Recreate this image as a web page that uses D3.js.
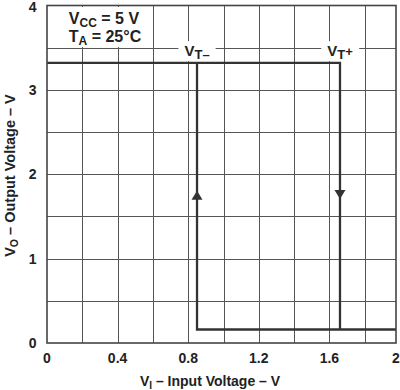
<!DOCTYPE html>
<html>
<head>
<meta charset="utf-8">
<script src="https://cdn.jsdelivr.net/npm/d3@7/dist/d3.min.js"></script>
<style>
  html, body { margin: 0; padding: 0; background: #fff; }
  svg { display: block; }
  text { font-family: "Liberation Sans", Arial, sans-serif; font-weight: bold; fill: #222; }
</style>
</head>
<body>
<svg id="chart" width="400" height="390"></svg>
<script>
// ---- data ----
const xTickValues = [0, 0.4, 0.8, 1.2, 1.6, 2];
const xTickLabels = ["0", "0.4", "0.8", "1.2", "1.6", "2"];
const yTickValues = [0, 1, 2, 3, 4];
const yTickLabels = ["0", "1", "2", "3", "4"];
const xGridValues = [0.2, 0.4, 0.6, 0.8, 1.0, 1.2, 1.4, 1.6, 1.8];
const yGridValues = [0.5, 1, 1.5, 2, 2.5, 3, 3.5];
const VOH = 3.32;          // output high level (V)
const VOL = 0.16;          // output low level (V)
const VT_minus = 0.85;     // negative-going threshold (V)
const VT_plus = 1.66;      // positive-going threshold (V)
const upperBranch = [[0, VOH], [VT_plus, VOH], [VT_plus, VOL]];
const lowerBranch = [[VT_minus, VOH], [VT_minus, VOL], [2, VOL]];
const arrows = [
  { x: VT_minus, y: 1.75, dir: "up" },
  { x: VT_plus, y: 1.76, dir: "down" }
];
const thresholdLabels = [
  { x: VT_minus, y: 3.5, sub: "T", mark: "–", markDy: 0 },
  { x: VT_plus, y: 3.5, sub: "T", mark: "+", markDy: -3 }
];

// ---- layout ----
const svg = d3.select("#chart");
const mLeft = 47, mRight = 396, mTop = 5.5, mBottom = 343;
// scanned original: last grid interval slightly compressed
const x = d3.scaleLinear().domain([0, 1.8, 2]).range([mLeft, 364.7, mRight]);
const y = d3.scaleLinear().domain([0, 4]).range([mBottom, mTop]);

// grid
const grid = svg.append("g").attr("stroke", "#555").attr("stroke-width", 1);
grid.selectAll("line.v").data(xGridValues).join("line").attr("class", "v")
  .attr("x1", d => Math.round(x(d)) + 0.5).attr("x2", d => Math.round(x(d)) + 0.5)
  .attr("y1", mTop).attr("y2", mBottom);
grid.selectAll("line.h").data(yGridValues).join("line").attr("class", "h")
  .attr("y1", d => Math.round(y(d)) + 0.5).attr("y2", d => Math.round(y(d)) + 0.5)
  .attr("x1", mLeft).attr("x2", mRight);

// header annotation with white backing
const hdr = svg.append("g");
const hdrBg = hdr.append("rect").attr("fill", "#fff");
const t1 = hdr.append("text").attr("x", 104).attr("y", 24).attr("text-anchor", "middle").style("font-size", "16px");
t1.append("tspan").text("V");
t1.append("tspan").attr("dy", 3).style("font-size", "12px").text("CC");
t1.append("tspan").attr("dy", -3).text(" = 5 V");
const t2 = hdr.append("text").attr("x", 105).attr("y", 41.5).attr("text-anchor", "middle").style("font-size", "16px");
t2.append("tspan").text("T");
t2.append("tspan").attr("dy", 3).style("font-size", "12px").text("A");
t2.append("tspan").attr("dy", -3).text(" = 25°C");
{
  const bb = hdr.node().getBBox();
  hdrBg.attr("x", bb.x - 8).attr("y", 7).attr("width", bb.width + 16).attr("height", 40);
}

// threshold labels with white backing
thresholdLabels.forEach(l => {
  const g = svg.append("g");
  const bg = g.append("rect").attr("fill", "#fff");
  const t = g.append("text").attr("x", x(l.x)).attr("y", y(l.y) + 8.5)
    .attr("text-anchor", "middle").style("font-size", "15px");
  t.append("tspan").text("V");
  t.append("tspan").attr("dy", 3).style("font-size", "13px").text(l.sub);
  t.append("tspan").attr("dy", l.markDy).style("font-size", "13px").text(l.mark);
  const bb = t.node().getBBox();
  bg.attr("x", bb.x - 6).attr("y", bb.y - 1).attr("width", bb.width + 12).attr("height", bb.height);
});

// curve
const line = d3.line().x(d => x(d[0])).y(d => y(d[1]));
svg.selectAll("path.curve").data([upperBranch, lowerBranch]).join("path")
  .attr("class", "curve")
  .attr("d", line)
  .attr("fill", "none").attr("stroke", "#333").attr("stroke-width", 2.3)
  .attr("stroke-linejoin", "miter");

// arrows
svg.selectAll("path.arrow").data(arrows).join("path")
  .attr("class", "arrow")
  .attr("fill", "#333")
  .attr("d", d => {
    const cx = x(d.x), cy = y(d.y), w = 5.5, h = 4.5;
    return d.dir === "up"
      ? `M${cx},${cy - h}L${cx + w},${cy + h}L${cx - w},${cy + h}Z`
      : `M${cx},${cy + h}L${cx + w},${cy - h}L${cx - w},${cy - h}Z`;
  });

// frame
svg.append("rect").attr("x", mLeft).attr("y", mTop).attr("width", mRight - mLeft).attr("height", mBottom - mTop)
  .attr("fill", "none").attr("stroke", "#444").attr("stroke-width", 1.6);

// tick labels
svg.selectAll("text.xt").data(xTickValues).join("text")
  .attr("class", "xt")
  .attr("x", d => x(d)).attr("y", 363)
  .attr("text-anchor", "middle").style("font-size", "14px")
  .text((d, i) => xTickLabels[i]);
svg.selectAll("text.yt").data(yTickValues).join("text")
  .attr("class", "yt")
  .attr("x", mLeft - 10.5).attr("y", d => Math.max(y(d) + 5, 12))
  .attr("text-anchor", "end").style("font-size", "14px")
  .text((d, i) => yTickLabels[i]);

// axis titles
const xt = svg.append("text").attr("x", 210).attr("y", 386).attr("text-anchor", "middle").style("font-size", "14px");
xt.append("tspan").text("V");
xt.append("tspan").attr("dy", 3).style("font-size", "10px").text("I");
xt.append("tspan").attr("dy", -3).text(" – Input Voltage – V");

const yt = svg.append("text").attr("transform", "translate(15,175.5) rotate(-90)").attr("text-anchor", "middle").style("font-size", "14.5px");
yt.append("tspan").text("V");
yt.append("tspan").attr("dy", 3).style("font-size", "10.5px").text("O");
yt.append("tspan").attr("dy", -3).text(" – Output Voltage – V");
</script>
</body>
</html>
